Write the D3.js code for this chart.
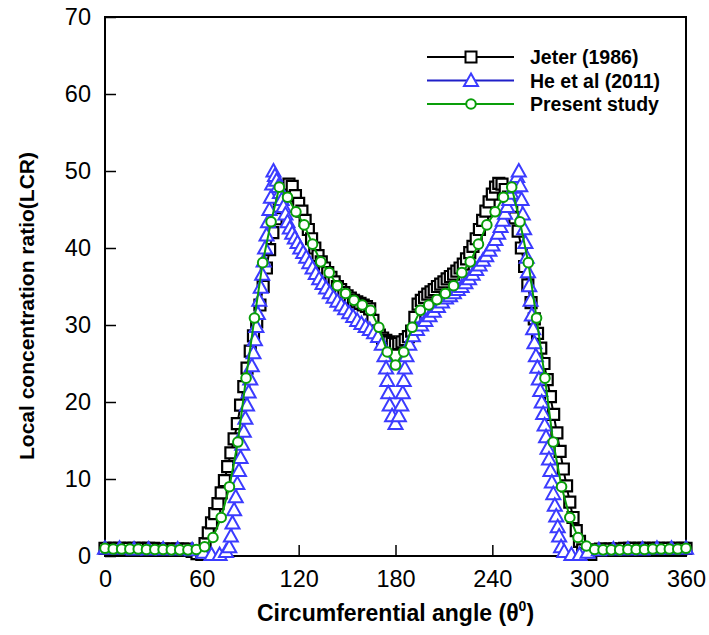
<!DOCTYPE html>
<html>
<head>
<meta charset="utf-8">
<script src="https://cdn.jsdelivr.net/npm/d3@7"></script>
<style>
  body { margin: 0; background: #fff; }
  text { font-family: Arial, "Liberation Sans", sans-serif; }
</style>
</head>
<body>
<svg id="chart" width="709" height="635"></svg>
<script>
// Jeter (1986)
const jeterAngle = [0,3,6,9,12,15,18,21,24,27,30,33,36,39,42,45,48,51,54,57,60,
  62,64,66,68,70,72,74,76,78,80,82,84,86,88,90,92,94,96,98,100,102,104,106,108,110,112,114,116,118,120,
  122,124,126,128,130,132,134,136,138,140,142,144,146,148,150,152,154,156,158,160,162,164,166,168,170,172,174,176,178,180,
  182,184,186,188,190,192,194,196,198,200,202,204,206,208,210,212,214,216,218,220,222,224,226,228,230,232,234,236,238,240,
  242,244,246,248,250,252,254,256,258,260,262,264,266,268,270,272,274,276,278,280,282,284,286,288,290,292,294,296,298,
  301,304,307,310,313,316,319,322,325,328,331,334,337,340,343,346,349,352,355,358,360];
const jeterLCR = [1.0,1.0,1.0,1.0,1.0,1.0,1.0,1.0,1.0,1.0,1.0,0.9,0.9,0.9,0.9,0.9,0.9,0.9,0.6,0.3,0.2,
  1.6,3.0,4.3,5.5,6.8,8.2,9.8,11.6,13.4,15.2,17.2,19.6,22.0,24.4,26.6,28.6,30.4,32.6,35.0,37.4,
  39.8,42.0,43.8,45.4,46.8,47.8,48.3,48.0,46.8,45.8,
  44.8,43.6,42.4,41.2,40.0,39.0,38.2,37.4,36.8,36.2,35.6,35.0,34.6,34.2,33.8,33.5,33.2,33.0,32.8,32.6,
  32.4,32.1,30.6,29.2,28.7,28.3,28.0,27.8,27.6,27.5,
  27.6,27.8,28.1,28.5,29.2,31.0,32.7,33.2,33.6,34.0,34.3,34.6,35.0,35.3,35.6,36.0,36.3,36.6,37.0,37.4,
  37.9,38.6,39.4,40.2,41.2,42.4,43.6,44.8,46.0,47.0,
  47.9,48.4,48.3,47.6,46.6,45.4,43.9,42.2,40.0,37.6,35.2,32.9,30.8,28.9,27.0,25.0,22.9,20.7,18.4,16.0,
  13.6,11.3,9.1,7.0,5.0,3.3,1.9,0.8,0.3,
  0.2,0.8,0.9,0.9,0.9,0.9,0.9,1.0,1.0,1.0,1.0,1.0,1.0,1.0,1.0,1.0,1.0,1.0,1.0,1.0,1.0];

// He et al (2011)
const heAngle = [0,9,18,27,36,45,54,61,66,71,
  75.0,77.0,78.0,79.0,80.0,81.0,82.0,83.0,84.0,85.0,86.0,87.0,88.0,89.0,90.0,91.0,92.0,92.9,93.8,94.7,
  95.6,96.5,97.4,98.3,99.2,100.1,101.0,101.9,102.8,103.6,104.4,
  105.3,106.3,107.3,108.4,109.5,110.6,111.8,113.1,114.5,116.0,117.6,119.3,121.0,122.8,124.7,126.6,128.6,130.6,
  132.7,134.8,137.0,139.3,141.6,144.0,146.4,148.8,151.3,153.8,156.3,158.9,161.5,164.1,166.7,169.2,171.5,
  173.2,174.2,174.9,175.5,176.4,177.9,180.0,
  182.1,183.6,184.5,185.1,185.8,186.8,188.5,190.8,193.3,195.9,198.5,201.1,203.7,206.3,208.8,211.3,213.8,
  216.2,218.6,221.0,223.3,225.6,227.8,230.0,232.1,234.2,236.2,238.2,240.1,241.9,243.6,245.1,246.5,247.9,
  249.2,250.5,251.8,253.1,254.3,255.4,256.4,
  257.3,258.1,258.9,259.7,260.5,261.3,262.1,262.9,263.7,264.5,265.3,266.1,267.0,267.9,268.8,269.7,270.6,
  271.5,272.4,273.3,274.2,275.1,276.0,276.9,277.8,278.7,279.6,280.5,281.4,282.6,284.5,
  289,294,299,306,315,324,333,342,351,360];
const heLCR = [1.0,1.0,0.9,0.9,0.9,0.9,0.8,0.5,0.2,0.2,
  0.6,1.2,2.6,4.3,6.0,7.7,9.4,11.1,12.8,14.5,16.2,17.9,19.6,21.3,23.0,24.7,26.4,28.1,29.8,31.5,
  33.2,34.9,36.6,38.3,40.0,41.7,43.4,45.0,46.6,48.3,50.0,
  49.4,48.8,48.0,47.2,46.3,45.4,44.4,43.4,42.6,41.9,41.3,40.7,40.0,39.4,38.8,38.1,37.4,36.7,
  36.0,35.4,34.8,34.2,33.6,33.1,32.6,32.1,31.6,31.1,30.6,30.2,29.8,29.4,29.0,28.5,27.5,
  26.0,24.4,22.8,21.2,19.6,18.2,17.2,
  18.2,19.6,21.2,22.8,24.4,26.0,27.5,28.6,29.4,30.0,30.6,31.2,31.8,32.4,33.0,33.5,33.8,
  34.2,34.6,35.0,35.5,36.0,36.6,37.2,37.8,38.4,39.0,39.7,40.4,41.1,41.9,42.8,43.6,44.5,
  45.4,46.3,47.1,47.9,48.6,49.3,50.0,
  48.1,46.3,44.4,42.5,40.7,38.8,36.9,35.1,33.2,31.3,29.5,27.7,26.0,24.5,23.0,21.5,20.0,
  18.5,17.0,15.5,14.0,12.6,11.1,9.6,8.1,6.6,5.2,3.8,2.6,1.2,0.6,
  0.2,0.2,0.5,0.8,0.9,0.9,0.9,1.0,1.0,1.0];

// Present study
const presentAngle = [0,5.1,10.3,15.4,20.6,25.7,30.9,36.0,41.1,46.3,51.4,56.6,61.7,66.9,72.0,77.1,82.3,87.4,
  92.6,97.7,102.9,108.0,113.1,118.3,123.4,128.6,133.7,138.9,144.0,149.1,154.3,159.4,164.6,169.7,174.9,180.0,
  185.1,190.3,195.4,200.6,205.7,210.9,216.0,221.1,226.3,231.4,236.6,241.7,246.9,252.0,257.1,262.3,267.4,
  272.6,277.7,282.9,288.0,293.1,298.3,303.4,308.6,313.7,318.9,324.0,329.1,334.3,339.4,344.6,349.7,354.9,360.0];
const presentLCR = [1.0,0.9,0.9,0.9,0.9,0.85,0.85,0.85,0.8,0.8,0.8,0.85,1.2,2.4,5.0,9.0,14.8,23.1,
  30.9,38.1,43.4,47.9,46.6,44.7,43.0,40.5,38.2,36.8,35.1,34.1,33.2,32.6,31.9,29.7,26.5,24.8,
  26.5,29.7,31.9,32.6,33.3,34.1,35.1,36.8,38.2,40.5,43.0,44.7,46.6,47.9,43.4,38.1,30.9,
  23.1,14.8,9.0,5.0,2.4,1.3,0.85,0.8,0.8,0.8,0.85,0.85,0.85,0.9,0.9,0.9,0.9,1.0];

const xMajor = [0,60,120,180,240,300,360];
const yMajor = [0,10,20,30,40,50,60,70];
const seriesNames = ["Jeter (1986)", "He et al (2011)", "Present study"];

const svg = d3.select("#chart");
const margin = { top: 17, right: 23, bottom: 79, left: 105 };
const width = 709 - margin.left - margin.right;
const height = 635 - margin.top - margin.bottom;

const x = d3.scaleLinear().domain([0, 360]).range([margin.left, margin.left + width]);
const y = d3.scaleLinear().domain([0, 70]).range([margin.top + height, margin.top]);

// minor ticks every 12 deg / 2 units, majors from the lists
const xMinor = x.ticks(30).filter(v => !xMajor.includes(v));
const yMinor = y.ticks(35).filter(v => !yMajor.includes(v));

const gx = svg.append("g").attr("transform", `translate(0,${margin.top + height})`);
gx.call(d3.axisBottom(x).tickValues(xMinor).tickSize(-6).tickFormat(""));
gx.call(d3.axisBottom(x).tickValues(xMajor).tickSize(-11).tickPadding(14));

const gy = svg.append("g").attr("transform", `translate(${margin.left},0)`);
gy.call(d3.axisLeft(y).tickValues(yMinor).tickSize(-6).tickFormat(""));
gy.call(d3.axisLeft(y).tickValues(yMajor).tickSize(-11).tickPadding(14));

svg.selectAll(".domain").remove();
svg.selectAll(".tick line").attr("stroke", "#000").attr("stroke-width", 1.5);
svg.selectAll(".tick text").attr("font-size", 23.5).attr("fill", "#000")
    .style("font-family", "Arial, 'Liberation Sans', sans-serif");

// plot frame
svg.append("rect")
    .attr("x", margin.left).attr("y", margin.top)
    .attr("width", width).attr("height", height)
    .attr("fill", "none").attr("stroke", "#000").attr("stroke-width", 2);

// axis titles
const xt = svg.append("text")
    .attr("x", margin.left + width / 2).attr("y", 621)
    .attr("text-anchor", "middle").attr("font-size", 23).attr("font-weight", "bold")
    .text("Circumferential angle (θ");
xt.append("tspan").attr("font-size", 14).attr("dy", -10).text("0");
xt.append("tspan").attr("dy", 10).text(")");

svg.append("text")
    .attr("transform", "translate(34,306) rotate(-90)")
    .attr("text-anchor", "middle").attr("font-size", 21).attr("font-weight", "bold")
    .text("Local concentration ratio(LCR)");

// marker shapes
const squarePath = "M-5.5,-5.5H5.5V5.5H-5.5Z";
const trianglePath = "M0,-7L7,5.5L-7,5.5Z";

const line = d3.line().x(d => x(d[0])).y(d => y(d[1]));

function drawSeries(angles, values, lineColor, lineWidth, markColor, markWidth, shape) {
    const pts = angles.map((a, i) => [a, values[i]]);
    const g = svg.append("g");
    g.append("path").datum(pts)
        .attr("d", line).attr("fill", "none")
        .attr("stroke", lineColor).attr("stroke-width", lineWidth);
    const m = g.selectAll(".mark").data(pts).enter();
    if (shape === "circle") {
        m.append("circle")
            .attr("cx", d => x(d[0])).attr("cy", d => y(d[1])).attr("r", 4.8)
            .attr("fill", "#fff").attr("stroke", markColor).attr("stroke-width", markWidth);
    } else {
        m.append("path")
            .attr("d", shape)
            .attr("transform", d => `translate(${x(d[0])},${y(d[1])})`)
            .attr("fill", "#fff").attr("stroke", markColor).attr("stroke-width", markWidth);
    }
}

drawSeries(jeterAngle, jeterLCR, "#000", 2, "#000", 2.2, squarePath);
drawSeries(heAngle, heLCR, "#2525e0", 1.5, "#3b3bff", 2, trianglePath);
drawSeries(presentAngle, presentLCR, "#0a9e0a", 2, "#0a9e0a", 2, "circle");

// legend
const legendRows = [
    { name: seriesNames[0], line: "#000", mark: "#000", shape: squarePath },
    { name: seriesNames[1], line: "#1f1fc8", mark: "#3b3bff", shape: trianglePath },
    { name: seriesNames[2], line: "#0a9e0a", mark: "#0a9e0a", shape: "circle" }
];
const legend = svg.append("g");
legendRows.forEach((r, i) => {
    const ly = 57 + i * 23.5;
    legend.append("line").attr("x1", 427).attr("x2", 514).attr("y1", ly).attr("y2", ly)
        .attr("stroke", r.line).attr("stroke-width", 2);
    if (r.shape === "circle") {
        legend.append("circle").attr("cx", 471).attr("cy", ly).attr("r", 4.8)
            .attr("fill", "#fff").attr("stroke", r.mark).attr("stroke-width", 2);
    } else {
        legend.append("path").attr("d", r.shape).attr("transform", `translate(471,${ly})`)
            .attr("fill", "#fff").attr("stroke", r.mark).attr("stroke-width", 2);
    }
    legend.append("text").attr("x", 530).attr("y", ly + 7)
        .attr("font-size", 19.5).attr("font-weight", "bold").text(r.name);
});
</script>
</body>
</html>
